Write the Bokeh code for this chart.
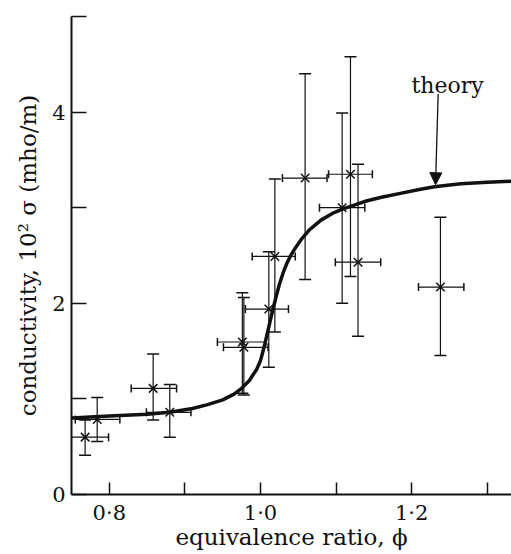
from bokeh.plotting import figure
from bokeh.models import (Range1d, FixedTicker, Whisker, TeeHead, ColumnDataSource,
                          Label, Arrow, NormalHead)
from bokeh.embed import file_html
from bokeh.resources import INLINE

# measured points: equivalence ratio and conductivity (10^2 sigma, mho/m)
phi = [0.768, 0.784, 0.858, 0.880, 0.976, 0.978, 1.011, 1.019, 1.059, 1.108, 1.119, 1.129, 1.238]
phi_lo = [0.739, 0.755, 0.829, 0.849, 0.943, 0.951, 0.980, 0.989, 1.029, 1.078, 1.090, 1.099, 1.209]
phi_hi = [0.799, 0.814, 0.889, 0.908, 1.007, 1.010, 1.037, 1.046, 1.088, 1.138, 1.148, 1.159, 1.269]
sigma = [0.60, 0.785, 1.11, 0.86, 1.595, 1.54, 1.94, 2.49, 3.31, 3.00, 3.35, 2.43, 2.17]
sigma_lo = [0.41, 0.555, 0.78, 0.60, 1.06, 1.04, 1.33, 1.70, 2.25, 2.00, 2.28, 1.655, 1.455]
sigma_hi = [0.78, 1.015, 1.47, 1.15, 2.11, 2.06, 2.54, 3.30, 4.40, 3.99, 4.58, 3.455, 2.90]

# theoretical curve
theory_phi = [0.75, 0.80, 0.85, 0.88, 0.91, 0.93, 0.95, 0.965, 0.975, 0.985, 0.995, 1.00,
              1.005, 1.01, 1.015, 1.02, 1.025, 1.03, 1.035, 1.04, 1.047, 1.055, 1.065,
              1.08, 1.095, 1.11, 1.125, 1.14, 1.16, 1.185, 1.21, 1.23, 1.265, 1.30, 1.34]
theory_sigma = [0.80, 0.82, 0.84, 0.86, 0.90, 0.94, 0.99, 1.05, 1.11, 1.19, 1.31, 1.40,
                1.55, 1.72, 1.89, 2.05, 2.20, 2.32, 2.42, 2.50, 2.59, 2.68, 2.77,
                2.87, 2.94, 2.99, 3.03, 3.07, 3.11, 3.15, 3.19, 3.22, 3.25, 3.265, 3.28]

x_major = [0.8, 1.0, 1.2]
x_major_labels = ["0·8", "1·0", "1·2"]
x_minor = [0.9, 1.1, 1.3]
y_major = [0, 2, 4]
y_major_labels = ["0", "2", "4"]
y_minor = [1, 3, 5]

FONT = "DejaVu Serif"
INK = "#111111"

p = figure(width=511, height=554, x_range=Range1d(0.75, 1.332), y_range=Range1d(0, 5.0),
           output_backend="svg", toolbar_location=None,
           min_border_left=71, min_border_right=0, min_border_top=16, min_border_bottom=60)
p.outline_line_color = None
p.grid.visible = False

xa = p.xaxis[0]
xa.ticker = FixedTicker(ticks=x_major, minor_ticks=x_minor)
xa.major_label_overrides = dict(zip(x_major, x_major_labels))
xa.axis_label = "equivalence ratio, ϕ"
xa.major_tick_in = 12
xa.major_tick_out = 0
xa.minor_tick_in = 12
xa.minor_tick_out = 0
xa.major_label_standoff = 6
xa.axis_label_standoff = -4

ya = p.yaxis[0]
ya.ticker = FixedTicker(ticks=y_major, minor_ticks=y_minor)
ya.major_label_overrides = dict(zip(y_major, y_major_labels))
ya.axis_label = "conductivity, 10² σ (mho/m)"
ya.major_tick_in = 15
ya.major_tick_out = 0
ya.minor_tick_in = 15
ya.minor_tick_out = 0
ya.major_label_standoff = 6
ya.axis_label_standoff = 8
ya.major_label_orientation = "horizontal"

for ax in (xa, ya):
    ax.axis_line_width = 2
    ax.axis_line_color = INK
    ax.major_tick_line_width = 1.5
    ax.minor_tick_line_width = 1.5
    ax.major_tick_line_color = INK
    ax.minor_tick_line_color = INK
    ax.major_label_text_font = FONT
    ax.major_label_text_font_size = "21px"
    ax.major_label_text_color = INK
    ax.axis_label_text_font = FONT
    ax.axis_label_text_font_size = "23px"
    ax.axis_label_text_font_style = "normal"
    ax.axis_label_text_color = INK

src = ColumnDataSource(dict(phi=phi, phi_lo=phi_lo, phi_hi=phi_hi,
                            sigma=sigma, sigma_lo=sigma_lo, sigma_hi=sigma_hi))

# error bars
p.add_layout(Whisker(source=src, base="phi", lower="sigma_lo", upper="sigma_hi",
                     dimension="height", line_width=1.2, line_color=INK,
                     lower_head=TeeHead(size=12, line_width=1.5, line_color=INK),
                     upper_head=TeeHead(size=12, line_width=1.5, line_color=INK)))
p.add_layout(Whisker(source=src, base="sigma", lower="phi_lo", upper="phi_hi",
                     dimension="width", line_width=1.2, line_color=INK,
                     lower_head=TeeHead(size=8, line_width=1.5, line_color=INK),
                     upper_head=TeeHead(size=8, line_width=1.5, line_color=INK)))

# theory curve
p.line(theory_phi, theory_sigma, line_width=3.5, line_color=INK, line_join="round")

# data markers
p.scatter("phi", "sigma", source=src, marker="x", size=12, line_width=1.5, line_color=INK)

# "theory" annotation with arrow
p.add_layout(Label(x=1.2474, y=4.28, text="theory", text_align="center",
                   text_baseline="alphabetic", text_font=FONT, text_font_size="22px",
                   text_color=INK))
p.add_layout(Arrow(x_start=1.235, y_start=4.19, x_end=1.2315, y_end=3.24,
                   line_width=1.3, line_color=INK,
                   end=NormalHead(size=12, fill_color=INK, line_color=INK)))

open("out.html", "w").write(file_html(p, INLINE))
